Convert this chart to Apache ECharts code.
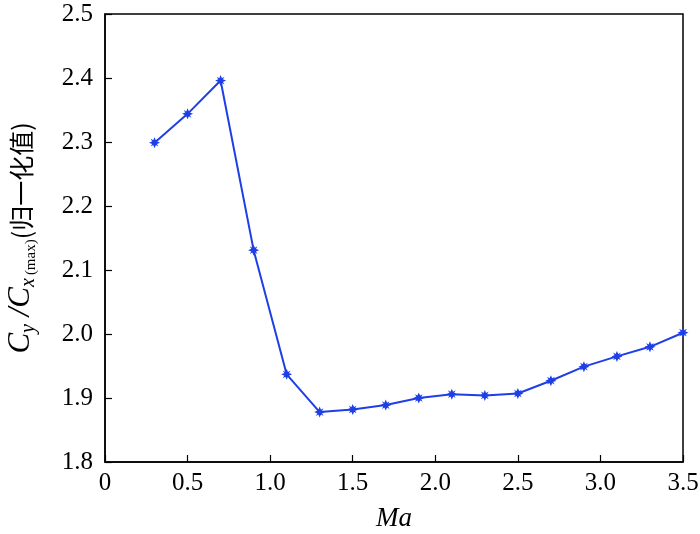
<!DOCTYPE html>
<html>
<head>
<meta charset="utf-8">
<script src="https://cdn.jsdelivr.net/npm/echarts@6/dist/echarts.min.js"></script>
<style>html,body{margin:0;padding:0;background:#fff}#c{width:700px;height:534px}</style>
</head>
<body>
<div id="c"></div>
<script>
var machNumbers = [0.3, 0.5, 0.7, 0.9, 1.1, 1.3, 1.5, 1.7, 1.9, 2.1, 2.3, 2.5, 2.7, 2.9, 3.1, 3.3, 3.5];
var liftDragRatio = [2.299, 2.344, 2.396, 2.131, 1.937, 1.878, 1.882, 1.889, 1.900, 1.906, 1.904, 1.907, 1.927, 1.949, 1.965, 1.980, 2.002];
var xTicks = [0, 0.5, 1.0, 1.5, 2.0, 2.5, 3.0, 3.5];
var yTicks = [1.8, 1.9, 2.0, 2.1, 2.2, 2.3, 2.4, 2.5];

var points = machNumbers.map(function (m, i) { return [m, liftDragRatio[i]]; });
var serif = 'Liberation Serif';
var starPath = 'path://M0,-10 L3,-3 L10,0 L3,3 L0,10 L-3,3 L-10,0 L-3,-3 Z M-7,-7 L0,-3 L7,-7 L3,0 L7,7 L0,3 L-7,7 L-3,0 Z';

var chart = echarts.init(document.getElementById('c'));
chart.setOption({
  animation: false,
  grid: { left: 105, right: 17, top: 14, bottom: 72, outerBoundsMode: 'none', containLabel: false,
    show: true, borderColor: '#000', borderWidth: 1.5, backgroundColor: 'transparent' },
  xAxis: {
    type: 'value', min: 0, max: 3.5, interval: 0.5,
    name: 'Ma', nameLocation: 'middle', nameGap: 43,
    nameTextStyle: { fontFamily: serif, fontStyle: 'italic', fontSize: 27, color: '#000' },
    axisLine: { show: true, lineStyle: { color: '#000', width: 1.5 } },
    axisTick: { show: true, inside: true, length: 7, lineStyle: { color: '#000', width: 1.2 } },
    axisLabel: { fontFamily: serif, fontSize: 25, color: '#000', margin: 9,
      formatter: function (v) { return v === 0 ? '0' : v.toFixed(1); } },
    splitLine: { show: false }
  },
  yAxis: {
    type: 'value', min: 1.8, max: 2.5, interval: 0.1,
    name: '{it|C}{sub|y}{it| /C}{sub|x}{sm|(max)}{cn|(归一化值)}',
    nameLocation: 'middle', nameGap: 66, nameRotate: 90,
    nameTextStyle: {
      color: '#000',
      rich: {
        it: { fontFamily: serif, fontStyle: 'italic', fontSize: 31, color: '#000', lineHeight: 36 },
        sub: { fontFamily: serif, fontStyle: 'italic', fontSize: 20, color: '#000', lineHeight: 36, verticalAlign: 'bottom', padding: [16, 0, 0, 0] },
        sm: { fontFamily: serif, fontSize: 15, color: '#000', lineHeight: 36, verticalAlign: 'bottom', padding: [18, 0, 0, 3] },
        cn: { fontFamily: 'Noto Sans CJK SC', fontSize: 25, color: '#000', lineHeight: 36 }
      }
    },
    axisLine: { show: true, lineStyle: { color: '#000', width: 1.5 } },
    axisTick: { show: true, inside: true, length: 7, lineStyle: { color: '#000', width: 1.2 } },
    axisLabel: { fontFamily: serif, fontSize: 25, color: '#000', margin: 12,
      formatter: function (v) { return v.toFixed(1); } },
    splitLine: { show: false }
  },
  series: [{
    type: 'line',
    data: points,
    lineStyle: { color: '#1f3fe6', width: 2 },
    itemStyle: { color: '#1f3fe6' },
    symbol: starPath,
    symbolSize: 11,
    showAllSymbol: true
  }]
});
</script>
</body>
</html>
